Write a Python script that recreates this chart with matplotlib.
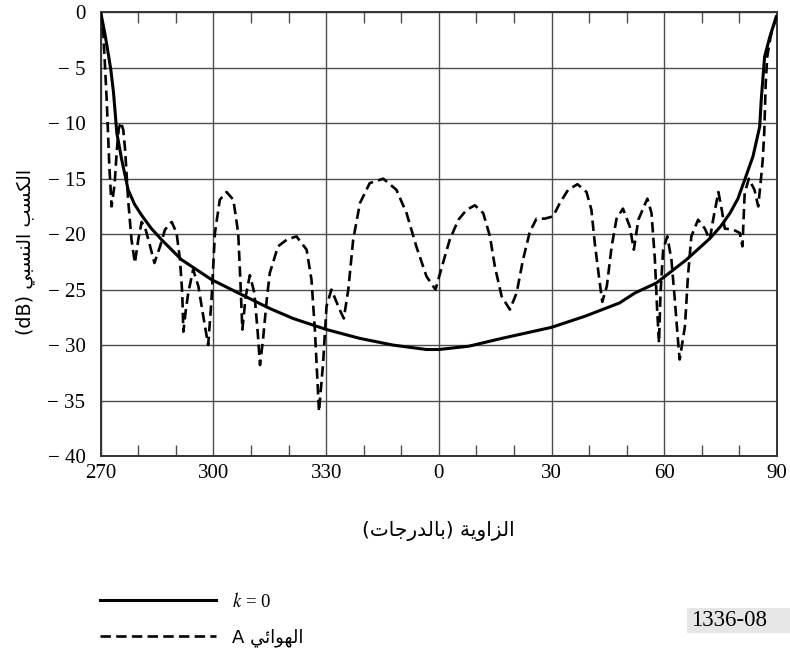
import re
import matplotlib
matplotlib.use("Agg")
import matplotlib.pyplot as plt
from matplotlib.ticker import MultipleLocator
from matplotlib.patches import Rectangle

plt.rcParams['mathtext.fontset'] = 'stix'
plt.rcParams['lines.scale_dashes'] = False

# ---------------- data (angle in degrees, -90..90 shown as 270..90) ----------------
angle_k0 = [-90.0, -88.9, -88.0, -87.3, -86.6, -85.7, -84.4, -82.7, -81.0, -79.1,
            -76.5, -73.8, -68.5, -60.5, -51.6, -45.0, -38.8, -29.9, -21.0, -12.2,
            -3.3, 0.0, 8.0, 16.7, 30.0, 38.9, 48.1, 52.2, 57.9, 65.9,
            72.1, 75.0, 77.5, 79.6, 81.4, 83.6, 85.4, 85.8, 86.7, 88.1,
            89.8]
gain_k0 = [0.0, -1.9, -3.7, -5.2, -7.2, -10.9, -13.3, -16.0, -17.3, -18.3,
           -19.5, -20.5, -22.3, -24.1, -25.6, -26.7, -27.6, -28.6, -29.4, -30.0,
           -30.4, -30.4, -30.1, -29.4, -28.4, -27.4, -26.2, -25.3, -24.4, -22.3,
           -20.4, -19.3, -18.1, -16.8, -15.1, -13.0, -10.3, -7.9, -4.0, -2.2,
           -0.4]

angle_A = [-90.0, -89.3, -88.4, -87.7, -87.1, -86.3, -85.7, -85.2, -84.6, -84.0,
           -83.5, -82.7, -81.8, -80.9, -80.0, -79.1, -78.2, -77.3, -75.7, -74.2,
           -72.9, -71.1, -69.8, -68.9, -68.3, -68.0, -67.4, -66.7, -65.4, -64.0,
           -62.7, -61.4, -60.5, -59.6, -58.3, -56.5, -54.7, -53.4, -52.8, -52.3,
           -51.4, -50.3, -49.1, -48.2, -47.6, -46.8, -45.8, -45.0, -42.8, -40.5,
           -37.9, -35.2, -33.9, -33.0, -31.9, -30.8, -29.9, -28.6, -26.4, -25.3,
           -24.1, -22.8, -21.0, -18.4, -14.8, -11.3, -8.6, -6.0, -3.3, -0.9,
           1.1, 2.9, 5.2, 7.4, 9.6, 11.8, 13.6, 14.9, 16.7, 18.9,
           20.7, 22.4, 24.2, 26.0, 28.2, 30.4, 32.2, 34.4, 36.9, 39.3,
           40.6, 41.5, 42.6, 43.5, 44.7, 46.0, 47.3, 49.0, 50.8, 51.9,
           53.1, 55.5, 56.6, 57.5, 58.1, 58.6, 59.0, 59.7, 60.8, 61.9,
           62.8, 63.7, 64.1, 65.5, 66.3, 67.2, 69.0, 70.8, 72.1, 73.0,
           74.4, 75.3, 76.1, 78.4, 80.1, 80.8, 81.4, 82.5, 84.0, 85.0,
           85.8, 86.2, 86.6, 87.0, 87.4, 88.3, 89.8]
gain_A = [0.0, -1.9, -7.9, -13.9, -17.5, -15.5, -12.4, -10.5, -9.9, -10.6,
          -12.4, -16.9, -20.5, -22.6, -20.5, -18.9, -19.4, -20.5, -22.6, -21.1,
          -19.6, -18.9, -19.9, -22.3, -25.3, -28.8, -27.0, -25.3, -23.2, -24.7,
          -27.4, -30.0, -25.9, -19.9, -16.9, -16.2, -16.9, -19.9, -24.4, -28.6,
          -25.6, -23.7, -25.3, -28.9, -31.8, -29.5, -25.9, -23.5, -21.1, -20.5,
          -20.2, -21.4, -24.1, -28.6, -36.0, -31.6, -26.5, -25.0, -26.8, -27.6,
          -25.0, -20.5, -17.2, -15.4, -15.0, -16.0, -18.1, -21.1, -23.8, -25.0,
          -22.6, -20.5, -18.7, -17.8, -17.4, -18.1, -20.2, -22.9, -25.6, -26.8,
          -25.3, -22.3, -19.8, -18.6, -18.6, -18.4, -17.2, -16.0, -15.5, -16.2,
          -17.8, -20.8, -23.8, -26.1, -24.7, -21.1, -18.6, -17.7, -19.3, -21.4,
          -18.7, -16.8, -18.1, -22.3, -26.8, -29.8, -25.3, -21.4, -20.2, -22.3,
          -25.9, -29.8, -31.3, -28.3, -23.8, -20.2, -18.7, -19.5, -20.5, -18.7,
          -16.2, -17.8, -19.5, -19.6, -19.9, -21.1, -16.3, -15.0, -16.0, -17.5,
          -14.8, -13.3, -10.9, -6.4, -4.0, -2.2, -0.4]

x_ticks = [-90, -60, -30, 0, 30, 60, 90]
x_labels = ['270', '300', '330', '0', '30', '60', '90']
y_ticks = [-40, -35, -30, -25, -20, -15, -10, -5, 0]
y_labels = ['\u2212 40', '\u2212 35', '\u2212 30', '\u2212 25', '\u2212 20',
            '\u2212 15', '\u2212 10', '\u2212 5', '0']

y_title = 'الكسب النسبي (dB)'
x_title = 'الزاوية (بالدرجات)'
legend_labels = [r'$k$ = 0', 'الهوائي A']
fig_code = '1336-08'

# ---------------- minimal Arabic shaping (presentation forms, visual order) ----------------
FORMS = {
    '\u0627': ('\uFE8D', '\uFE8E', None, None),
    '\u0628': ('\uFE8F', '\uFE90', '\uFE91', '\uFE92'),
    '\u0629': ('\uFE93', '\uFE94', None, None),
    '\u062A': ('\uFE95', '\uFE96', '\uFE97', '\uFE98'),
    '\u062C': ('\uFE9D', '\uFE9E', '\uFE9F', '\uFEA0'),
    '\u062F': ('\uFEA9', '\uFEAA', None, None),
    '\u0631': ('\uFEAD', '\uFEAE', None, None),
    '\u0632': ('\uFEAF', '\uFEB0', None, None),
    '\u0633': ('\uFEB1', '\uFEB2', '\uFEB3', '\uFEB4'),
    '\u0643': ('\uFED9', '\uFEDA', '\uFEDB', '\uFEDC'),
    '\u0644': ('\uFEDD', '\uFEDE', '\uFEDF', '\uFEE0'),
    '\u0646': ('\uFEE5', '\uFEE6', '\uFEE7', '\uFEE8'),
    '\u0647': ('\uFEE9', '\uFEEA', '\uFEEB', '\uFEEC'),
    '\u0648': ('\uFEED', '\uFEEE', None, None),
    '\u064A': ('\uFEF1', '\uFEF2', '\uFEF3', '\uFEF4'),
    '\u0626': ('\uFE89', '\uFE8A', '\uFE8B', '\uFE8C'),
}


def shape(s):
    out = []
    for i, c in enumerate(s):
        if c not in FORMS:
            out.append(c)
            continue
        prev = s[i - 1] if i > 0 else ''
        nxt = s[i + 1] if i + 1 < len(s) else ''
        jp = prev in FORMS and FORMS[prev][2] is not None
        jn = FORMS[c][2] is not None and nxt in FORMS
        iso, fin, ini, med = FORMS[c]
        out.append(med if (jp and jn) else fin if jp else ini if jn else iso)
    vis = ''.join(out)[::-1]
    vis = vis.translate(str.maketrans('()', ')('))
    vis = re.sub(r'[A-Za-z0-9]+', lambda m: m.group(0)[::-1], vis)
    return vis


# ---------------- figure ----------------
W, H = 790, 651
fig = plt.figure(figsize=(W / 100, H / 100), dpi=100)
x0, x1, y0, y1 = 100.7, 777.0, 12.3, 456.0
ax = fig.add_axes([x0 / W, 1 - y1 / H, (x1 - x0) / W, (y1 - y0) / H])

l1, = ax.plot(angle_k0, gain_k0, color='black', lw=2.2, solid_joinstyle='round', zorder=3)
l2, = ax.plot(angle_A, gain_A, color='black', lw=1.9, dashes=(7.5, 3.8),
              dash_joinstyle='round', zorder=3)

ax.set_xlim(-90, 90)
ax.set_ylim(-40, 0)
ax.set_xticks(x_ticks)
ax.set_xticklabels(x_labels)
ax.set_yticks(y_ticks)
ax.set_yticklabels(y_labels)
ax.xaxis.set_minor_locator(MultipleLocator(10))
ax.grid(True, which='major', color='#4d4d4d', lw=1.0)
ax.tick_params(axis='both', which='major', length=0)
ax.tick_params(axis='x', which='major', pad=6)
ax.tick_params(axis='y', which='major', pad=11)
ax.tick_params(axis='x', which='minor', direction='in', length=8, width=1.0,
               top=True, bottom=True, color='#4d4d4d')
for lab in ax.get_xticklabels() + ax.get_yticklabels():
    lab.set_fontfamily('Liberation Serif')
    lab.set_fontsize(15)
for sp in ax.spines.values():
    sp.set_linewidth(1.4)
    sp.set_color('#333333')

fig.text(25 / W, 1 - 252 / H, shape(y_title), rotation=90, ha='center', va='center',
         family='DejaVu Sans', fontsize=13.8)
fig.text(438 / W, 1 - 531 / H, shape(x_title), ha='center', va='center',
         family='DejaVu Sans', fontsize=14.5)

leg = fig.legend([l1, l2], [legend_labels[0], shape(legend_labels[1])],
                 loc='upper left', bbox_to_anchor=(100 / W, 1 - 592 / H),
                 frameon=False, borderpad=0, borderaxespad=0, handlelength=6.2,
                 handletextpad=0.85, labelspacing=0.95,
                 prop={'family': 'Liberation Serif', 'size': 13.5})
leg.get_texts()[1].set_fontfamily('DejaVu Sans')
leg.get_texts()[1].set_fontsize(13)

fig.patches.append(Rectangle((687 / W, 1 - 633 / H), (790 - 687) / W, 25 / H,
                             transform=fig.transFigure, facecolor='#e6e6e6',
                             edgecolor='none', zorder=0))
fig.text(729 / W, 1 - 621 / H, fig_code, ha='center', va='center',
         family='Liberation Serif', fontsize=16.5)

fig.savefig('out.png', dpi=100)
